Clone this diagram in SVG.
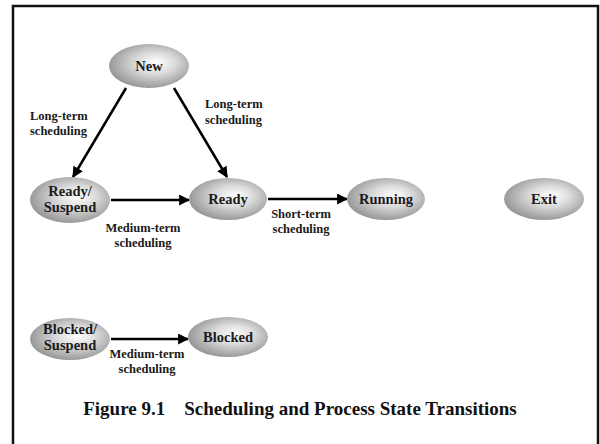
<svg xmlns="http://www.w3.org/2000/svg" width="600" height="444" viewBox="0 0 600 444">
<style>
.node text{font-family:"Liberation Serif","Times New Roman",serif;font-weight:bold;font-size:14.5px;fill:#1a1a1a;text-anchor:middle}
.lbl{font-family:"Liberation Serif","Times New Roman",serif;font-weight:bold;font-size:12.5px;fill:#1a1a1a}
.title{font-family:"Liberation Serif","Times New Roman",serif;font-weight:bold;font-size:19px;fill:#111;text-anchor:middle}
.conn line{stroke:#000;stroke-width:2.5;marker-end:url(#ah)}
.node ellipse{fill:url(#g);stroke:none}
</style>
<defs>
<radialGradient id="g" cx="0.55" cy="0.45" r="0.6" fx="0.6" fy="0.42">
<stop offset="0" stop-color="#ffffff"/>
<stop offset="0.4" stop-color="#dcdcdc"/>
<stop offset="1" stop-color="#8f8f8f"/>
</radialGradient>
<marker id="ah" viewBox="0 0 10 10" refX="9" refY="5" markerWidth="4.6" markerHeight="4.4" orient="auto" markerUnits="strokeWidth">
<path d="M0,0 L10,5 L0,10 z" fill="#000"/>
</marker>
</defs>
<rect width="600" height="444" fill="#fff"/>
<path d="M13,450 V6 H598 V450" fill="none" stroke="#111" stroke-width="2.5"/>
<g class="conn">
<line x1="126" y1="88" x2="73" y2="177"/>
<line x1="174" y1="88" x2="227" y2="177"/>
<line x1="111" y1="200" x2="189" y2="200"/>
<line x1="268" y1="199" x2="347" y2="199"/>
<line x1="111" y1="339" x2="188" y2="339"/>
</g>
<g id="lbl-lt1"><text class="lbl" x="30" y="120">Long-term</text><text class="lbl" x="30" y="135">scheduling</text></g>
<g id="lbl-lt2"><text class="lbl" x="205" y="108">Long-term</text><text class="lbl" x="205" y="124">scheduling</text></g>
<g id="lbl-mt1"><text class="lbl" x="143" y="232" text-anchor="middle">Medium-term</text><text class="lbl" x="143" y="247" text-anchor="middle">scheduling</text></g>
<g id="lbl-st"><text class="lbl" x="301" y="218" text-anchor="middle">Short-term</text><text class="lbl" x="301" y="233" text-anchor="middle">scheduling</text></g>
<g id="lbl-mt2"><text class="lbl" x="147" y="358" text-anchor="middle">Medium-term</text><text class="lbl" x="147" y="373" text-anchor="middle">scheduling</text></g>
<g id="new" class="node"><ellipse cx="149" cy="66" rx="40" ry="22"/><text x="149" y="71">New</text></g>
<g id="ready-suspend" class="node"><ellipse cx="70" cy="200" rx="40" ry="23"/><text x="70" y="196">Ready/</text><text x="70" y="212">Suspend</text></g>
<g id="ready" class="node"><ellipse cx="228" cy="199" rx="39" ry="21"/><text x="228" y="204">Ready</text></g>
<g id="running" class="node"><ellipse cx="386" cy="199" rx="39" ry="21"/><text x="386" y="204">Running</text></g>
<g id="exit" class="node"><ellipse cx="544" cy="199" rx="40" ry="21"/><text x="544" y="204">Exit</text></g>
<g id="blocked-suspend" class="node"><ellipse cx="70" cy="339" rx="40" ry="21"/><text x="70" y="334">Blocked/</text><text x="70" y="350">Suspend</text></g>
<g id="blocked" class="node"><ellipse cx="228" cy="337" rx="40" ry="20"/><text x="228" y="342">Blocked</text></g>
<text class="title" x="300" y="415" xml:space="preserve">Figure 9.1    Scheduling and Process State Transitions</text>
</svg>
